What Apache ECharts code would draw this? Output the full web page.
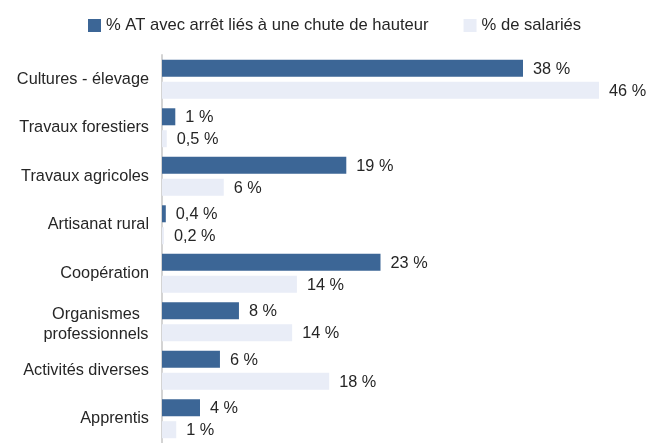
<!DOCTYPE html>
<html lang="fr">
<head>
    <meta charset="UTF-8">
    <title>Chutes de hauteur</title>
    <script src="https://cdn.jsdelivr.net/npm/echarts@6/dist/echarts.min.js"></script>
    <style>
        html, body { margin: 0; padding: 0; background: #fff; }
        #chart { width: 659px; height: 443px; }
    </style>
</head>
<body>
    <div id="chart"></div>
    <script>
        const categories = ['Cultures - élevage', 'Travaux forestiers', 'Travaux agricoles', 'Artisanat rural',
            'Coopération', 'Organismes\nprofessionnels', 'Activités diverses', 'Apprentis'];
        const seriesNames = ['% AT avec arrêt liés à une chute de hauteur', '% de salariés'];
        // bar lengths, labels as printed
        const atValues = [38, 1.4, 19.4, 0.4, 23, 8.1, 6.1, 4];
        const atLabels = ['38 %', '1 %', '19 %', '0,4 %', '23 %', '8 %', '6 %', '4 %'];
        const salValues = [46, 0.5, 6.5, 0.2, 14.2, 13.7, 17.6, 1.5];
        const salLabels = ['46 %', '0,5 %', '6 %', '0,2 %', '14 %', '14 %', '18 %', '1 %'];

        const font = '"Liberation Sans", Arial, sans-serif';
        const fs = 16.3;
        const chart = echarts.init(document.getElementById('chart'));

        function labelFor(list) {
            return {
                show: true,
                position: 'right',
                distance: 10,
                offset: [0, 1],
                fontFamily: font,
                fontSize: fs,
                color: '#262626',
                formatter: p => list[p.dataIndex]
            };
        }

        chart.setOption({
            animation: false,
            textStyle: { fontFamily: font },
            legend: {
                left: 83,
                top: 12,
                itemWidth: 13,
                itemHeight: 13,
                itemGap: 35,
                icon: 'rect',
                textStyle: { fontFamily: font, fontSize: 16.6, color: '#262626' },
                data: seriesNames
            },
            grid: { left: 162, right: 22, top: 55, bottom: 0 },
            xAxis: { type: 'value', min: 0, max: 50, show: false },
            yAxis: {
                type: 'category',
                data: categories,
                inverse: true,
                axisLine: { lineStyle: { color: '#d4d4d4', width: 2 } },
                axisTick: { show: false },
                axisLabel: {
                    margin: 13,
                    fontFamily: font,
                    fontSize: fs,
                    color: '#262626',
                    formatter: v => v.indexOf('\n') >= 0 ? '{c|' + v.split('\n').join('}\n{c|') + '}' : v,
                    rich: { c: { width: 106, align: 'center', fontSize: fs, fontFamily: font, color: '#262626', lineHeight: 20, padding: [6, 0, 0, 0] } }
                }
            },
            series: [
                {
                    name: seriesNames[0],
                    type: 'bar',
                    data: atValues,
                    barWidth: 17,
                    barGap: '29%',
                    itemStyle: { color: '#3c6696' },
                    label: labelFor(atLabels)
                },
                {
                    name: seriesNames[1],
                    type: 'bar',
                    data: salValues,
                    barWidth: 17,
                    itemStyle: { color: '#e9edf7' },
                    label: labelFor(salLabels)
                }
            ]
        });
    </script>
</body>
</html>
